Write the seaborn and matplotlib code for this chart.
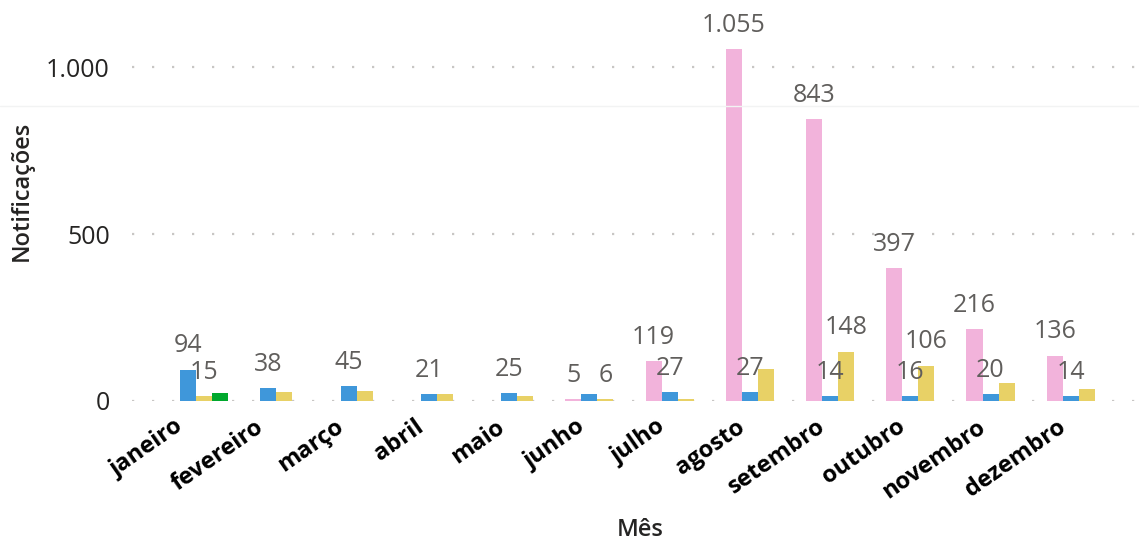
import matplotlib
matplotlib.use("Agg")
import matplotlib.pyplot as plt
from matplotlib.lines import Line2D
from matplotlib.transforms import ScaledTranslation
import seaborn as sns
import pandas as pd
import numpy as np

# Monthly notifications, four series (no legend in the original)
meses = ["janeiro", "fevereiro", "março", "abril", "maio", "junho",
         "julho", "agosto", "setembro", "outubro", "novembro", "dezembro"]
series = ["Série 1", "Série 2", "Série 3", "Série 4"]
rosa = [np.nan, np.nan, np.nan, np.nan, np.nan, 5, 119, 1055, 843, 397, 216, 136]
azul = [94, 38, 45, 21, 25, 20, 27, 27, 14, 16, 20, 14]
amarelo = [15, 27, 30, 22, 14, 6, 5, 95, 148, 106, 54, 36]
verde = [24, np.nan, np.nan, np.nan, np.nan, np.nan, np.nan, np.nan, np.nan, np.nan, np.nan, np.nan]
cores = ["#F2B3DB", "#3F97DA", "#E8D166", "#00A82D"]

# which bars got a data label in the original (Power BI hides overlapping ones)
rotulos = {
    "Série 1": [False] * 5 + [True] * 7,
    "Série 2": [True, True, True, True, True, False, True, True, True, True, True, True],
    "Série 3": [True, False, False, False, False, True, False, False, True, True, False, False],
    "Série 4": [False] * 12,
}
valores = {"Série 1": rosa, "Série 2": azul, "Série 3": amarelo, "Série 4": verde}

rows = []
for nome in series:
    for m, v in zip(meses, valores[nome]):
        if not np.isnan(v):
            rows.append({"Mês": m, "Série": nome, "Notificações": v})
df = pd.DataFrame(rows)

sns.set_style("white")
plt.rcParams["font.family"] = ["Open Sans", "DejaVu Sans"]

fig = plt.figure(figsize=(11.39, 5.42), dpi=100)
ax = fig.add_axes([132 / 1139, 141 / 542, 1007 / 1139, 371 / 542])

sns.barplot(data=df, x="Mês", y="Notificações", hue="Série", order=meses,
            hue_order=series, palette=cores, width=0.8, saturation=1,
            errorbar=None, legend=False, linewidth=0, edgecolor="none", ax=ax)

ax.set_xlim(-0.8, 11.75)
ax.set_ylim(0, 1111)
ax.set_yticks([0, 500, 1000])
ax.set_yticklabels(["0", "500", "1.000"], fontsize=18, color="#252423")
ax.tick_params(axis="y", length=0, pad=16)
ax.tick_params(axis="x", length=0, pad=10)
ax.yaxis.grid(True, color="#C8C6C4", linestyle=(0, (1, 8)), linewidth=1.6)
ax.set_axisbelow(True)
sns.despine(ax=ax, left=True, bottom=True)

shift = ScaledTranslation(-22 / 100, 0, fig.dpi_scale_trans)
for lbl in ax.get_xticklabels():
    lbl.set_rotation(35)
    lbl.set_ha("right")
    lbl.set_rotation_mode("anchor")
    lbl.set_fontweight("bold")
    lbl.set_fontsize(17)
    lbl.set_color("#000000")
    lbl.set_transform(lbl.get_transform() + shift)

ax.set_xlabel("")
ax.set_ylabel("")

# data labels
for container, nome in zip(ax.containers, series):
    vals = valores[nome]
    labs = []
    for m, v, f in zip(meses, vals, rotulos[nome]):
        if np.isnan(v):
            continue
        labs.append(f"{int(v):,}".replace(",", ".") if f else "")
    ax.bar_label(container, labels=labs, padding=8, fontsize=18, color="#605E5C")

fig.text(22 / 1139, 1 - 191 / 542, "Notificações", rotation=90, fontsize=17,
         color="#252423", ha="center", va="center", fontweight="semibold")
fig.text(640 / 1139, 12 / 542, "Mês", fontsize=17, color="#252423",
         ha="center", va="center", fontweight="semibold")

fig.add_artist(Line2D([0, 1], [1 - 106 / 542, 1 - 106 / 542],
                      color="#F2F3F3", linewidth=1.0, transform=fig.transFigure))

fig.savefig("out.png", dpi=100)
